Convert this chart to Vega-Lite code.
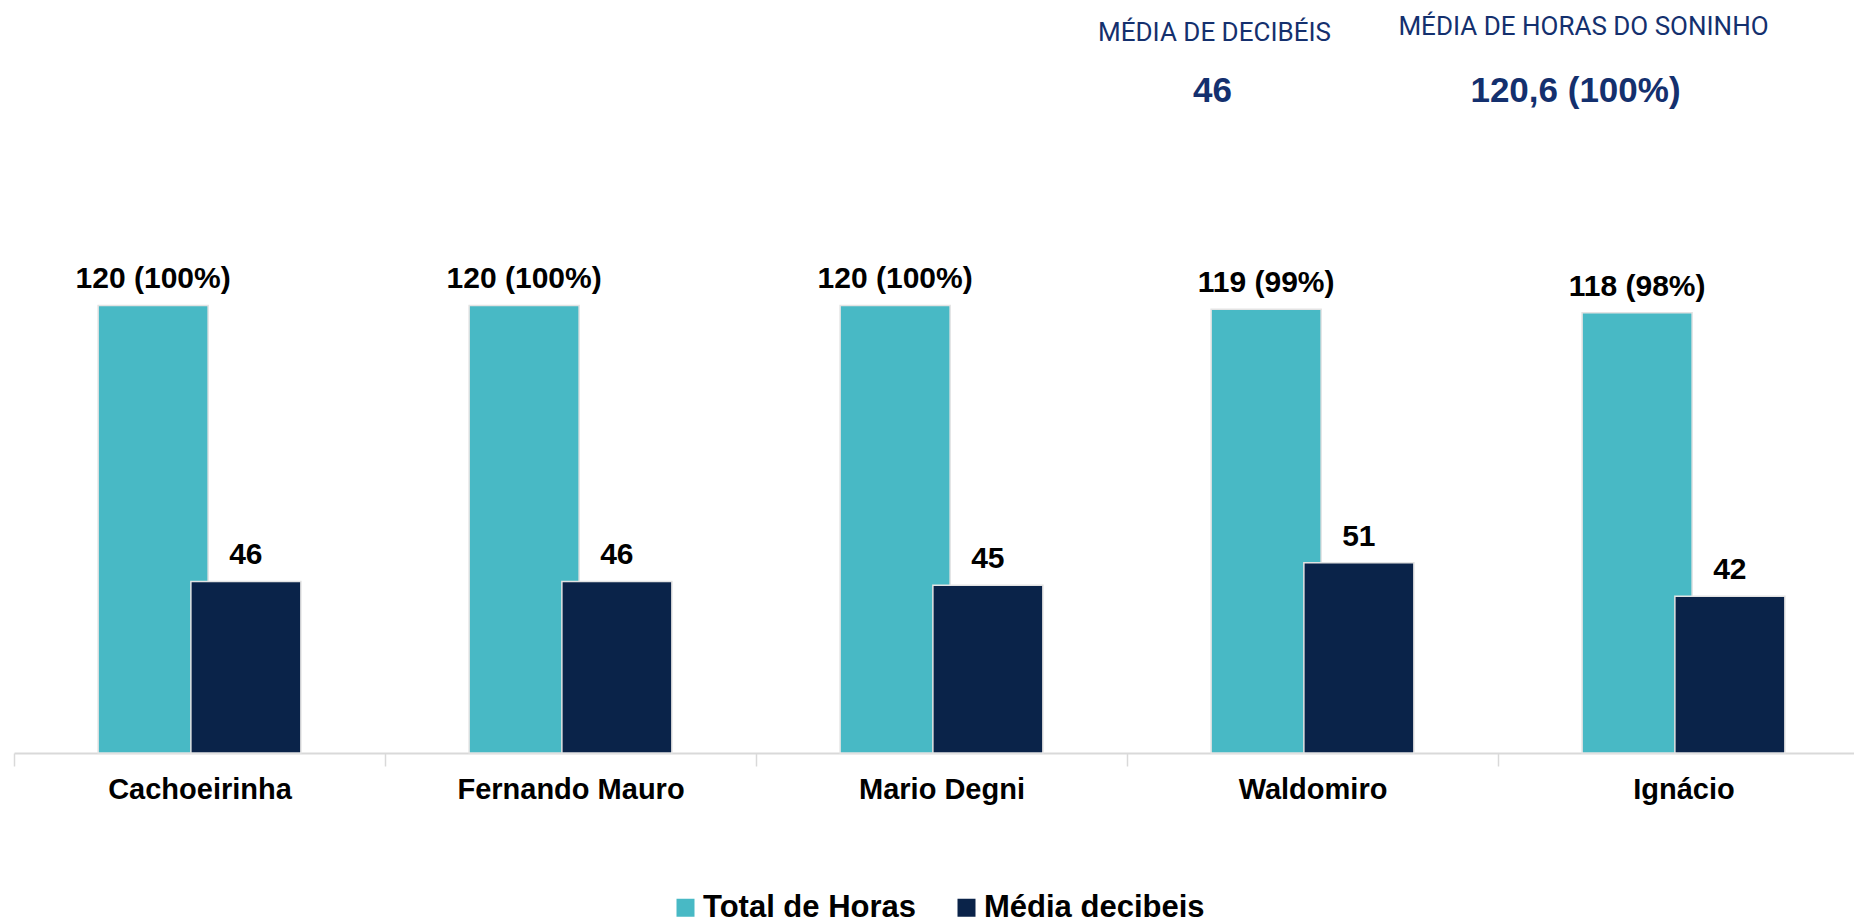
{
  "$schema": "https://vega.github.io/schema/vega-lite/v6.json",
  "autosize": "none",
  "width": 1840,
  "height": 746,
  "padding": {"left": 14, "top": 7, "right": 0, "bottom": 171},
  "background": "white",
  "config": {"view": {"stroke": null}, "font": "Liberation Sans"},
  "datasets": {
    "locais": [
      {"local": "Cachoeirinha", "serie": "Total de Horas", "valor": 120, "rotulo": "120 (100%)"},
      {"local": "Cachoeirinha", "serie": "Média decibeis", "valor": 46, "rotulo": "46"},
      {"local": "Fernando Mauro", "serie": "Total de Horas", "valor": 120, "rotulo": "120 (100%)"},
      {"local": "Fernando Mauro", "serie": "Média decibeis", "valor": 46, "rotulo": "46"},
      {"local": "Mario Degni", "serie": "Total de Horas", "valor": 120, "rotulo": "120 (100%)"},
      {"local": "Mario Degni", "serie": "Média decibeis", "valor": 45, "rotulo": "45"},
      {"local": "Waldomiro", "serie": "Total de Horas", "valor": 119, "rotulo": "119 (99%)"},
      {"local": "Waldomiro", "serie": "Média decibeis", "valor": 51, "rotulo": "51"},
      {"local": "Ignácio", "serie": "Total de Horas", "valor": 118, "rotulo": "118 (98%)"},
      {"local": "Ignácio", "serie": "Média decibeis", "valor": 42, "rotulo": "42"}
    ]
  },
  "layer": [
    {
      "data": {"name": "locais"},
      "mark": {"type": "bar", "width": 110, "stroke": "#e3e3e3", "strokeWidth": 1.5},
      "encoding": {
        "x": {
          "field": "local", "type": "nominal", "sort": null,
          "scale": {"paddingInner": 0, "paddingOuter": 0, "range": [0, 1855]},
          "axis": {
            "title": null, "labelAngle": 0, "labelLimit": 0,
            "labelFont": "Liberation Sans", "labelFontWeight": "bold", "labelFontSize": 29, "labelColor": "#000000",
            "labelPadding": 9,
            "domainColor": "#d9d9d9", "domainWidth": 2,
            "tickColor": "#d9d9d9", "tickWidth": 1.5, "tickSize": 13, "tickBand": "extent"
          }
        },
        "xOffset": {
          "field": "serie", "type": "nominal",
          "sort": ["Total de Horas", "Média decibeis"],
          "scale": {"paddingInner": 0, "paddingOuter": 1.08}
        },
        "y": {
          "field": "valor", "type": "quantitative",
          "scale": {"domain": [0, 200], "nice": false, "zero": true},
          "axis": null
        },
        "color": {
          "field": "serie", "type": "nominal",
          "sort": ["Total de Horas", "Média decibeis"],
          "scale": {"domain": ["Total de Horas", "Média decibeis"], "range": ["#48b9c5", "#0a2349"]},
          "legend": {
            "title": null, "orient": "none", "direction": "horizontal",
            "legendX": 656, "legendY": 885,
            "symbolType": "square", "symbolSize": 324, "symbolStrokeWidth": 0,
            "labelFont": "Liberation Sans", "labelFontWeight": "bold", "labelFontSize": 31, "labelColor": "#000000",
            "labelLimit": 0, "columnPadding": 34, "labelOffset": 2
          }
        }
      }
    },
    {
      "data": {"name": "locais"},
      "mark": {"type": "text", "baseline": "alphabetic", "dy": -17, "font": "Liberation Sans", "fontWeight": "bold", "fontSize": 30, "color": "#000000"},
      "encoding": {
        "x": {"field": "local", "type": "nominal", "sort": null},
        "xOffset": {"field": "serie", "type": "nominal", "sort": ["Total de Horas", "Média decibeis"]},
        "y": {"field": "valor", "type": "quantitative"},
        "text": {"field": "rotulo"}
      }
    },
    {
      "data": {"values": [{"t": "MÉDIA DE DECIBÉIS"}]},
      "mark": {"type": "text", "dx": -98, "font": "Roboto", "fontSize": 26, "color": "#14306e", "baseline": "middle"},
      "encoding": {"x": {"datum": "Waldomiro"}, "y": {"datum": 193.0}, "text": {"field": "t"}}
    },
    {
      "data": {"values": [{"t": "46"}]},
      "mark": {"type": "text", "dx": -100, "font": "Liberation Sans", "fontWeight": "bold", "fontSize": 35, "color": "#14306e", "baseline": "middle"},
      "encoding": {"x": {"datum": "Waldomiro"}, "y": {"datum": 177.5}, "text": {"field": "t"}}
    },
    {
      "data": {"values": [{"t": "MÉDIA DE HORAS DO SONINHO"}]},
      "mark": {"type": "text", "dx": -100, "font": "Roboto", "fontSize": 26, "color": "#14306e", "baseline": "middle"},
      "encoding": {"x": {"datum": "Ignácio"}, "y": {"datum": 194.6}, "text": {"field": "t"}}
    },
    {
      "data": {"values": [{"t": "120,6 (100%)"}]},
      "mark": {"type": "text", "dx": -108, "font": "Liberation Sans", "fontWeight": "bold", "fontSize": 35, "color": "#14306e", "baseline": "middle"},
      "encoding": {"x": {"datum": "Ignácio"}, "y": {"datum": 177.5}, "text": {"field": "t"}}
    }
  ]
}
